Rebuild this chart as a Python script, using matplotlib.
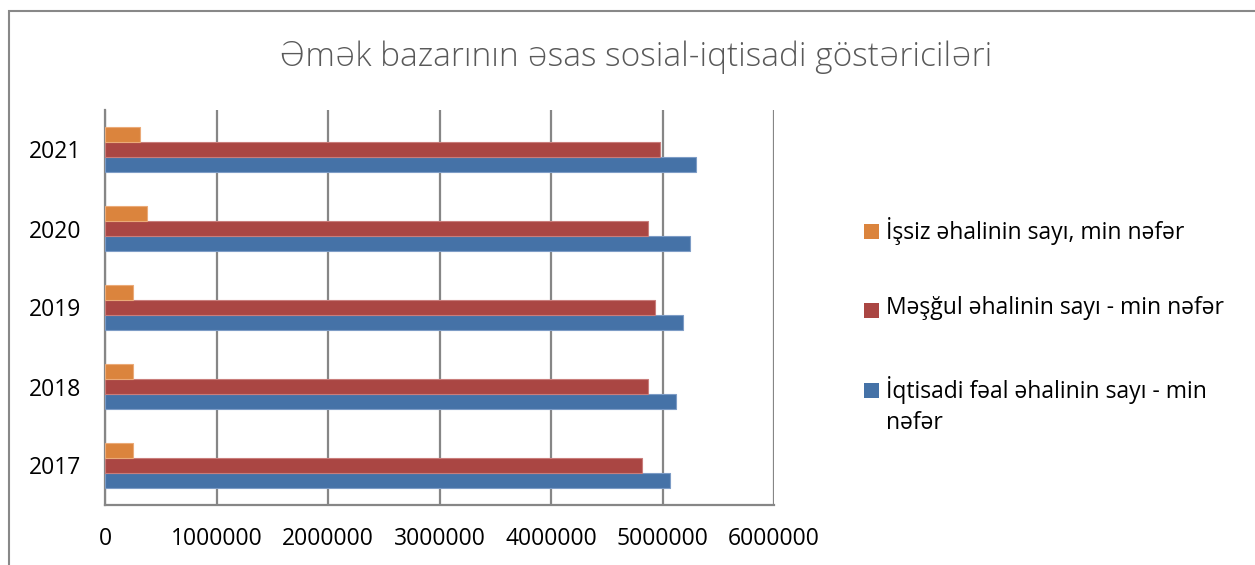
import matplotlib.pyplot as plt
import numpy as np
from matplotlib.patches import Rectangle

years = ["2017", "2018", "2019", "2020", "2021"]
active = [5067000, 5124000, 5184000, 5246000, 5297000]
employed = [4814000, 4873000, 4930000, 4870000, 4978000]
unemployed = [254000, 254000, 254000, 373000, 316000]

series_labels = [
    "İqtisadi fəal əhalinin sayı - min\nnəfər",
    "Məşğul əhalinin sayı - min nəfər",
    "İşsiz əhalinin sayı, min nəfər",
]
colors = ["#4572A7", "#AA4643", "#DB843D"]
edges = ["#7D9CC6", "#C97D7B", "#EBAA78"]
xticks = [0, 1000000, 2000000, 3000000, 4000000, 5000000, 6000000]
title = "Əmək bazarının əsas sosial-iqtisadi göstəriciləri"

plt.rcParams['font.family'] = ['Open Sans', 'DejaVu Sans']

W, H = 1255, 565
fig = plt.figure(figsize=(W / 100, H / 100), dpi=100)
ax = fig.add_axes([105 / W, 1 - 505 / H, (774 - 105) / W, (505 - 110) / H])

y = np.arange(len(years))
h = 0.194
values = [active, employed, unemployed]
for k, vals in enumerate(values):
    ax.barh(y + (k - 1) * h, vals, height=h, color=colors[k],
            edgecolor=edges[k], linewidth=0.8, zorder=3)

ax.set_xlim(0, 6000000)
ax.set_ylim(-0.5, len(years) - 0.5)
ax.set_xticks(xticks)
ax.set_xticklabels([str(t) for t in xticks], fontsize=16.5, color="#000000")
ax.set_yticks(y)
ax.set_yticklabels(years, fontsize=16.5, color="#000000")
ax.tick_params(axis='x', length=0, pad=16)
ax.tick_params(axis='y', length=0, pad=17)
ax.grid(axis='x', color="#868686", linewidth=1.6, zorder=0)
for side in ['top', 'right']:
    ax.spines[side].set_visible(False)
for side in ['left', 'bottom']:
    ax.spines[side].set_color("#868686")
    ax.spines[side].set_linewidth(1.6)

fig.text(636 / W, 1 - 57 / H, title, ha='center', va='center',
         fontsize=24, color="#595959", fontweight='light')

# legend, drawn by hand so the square sits beside the first line
leg_y = [390, 310, 231]
for k in range(3):
    fig.add_artist(Rectangle((864 / W, 1 - (leg_y[k] + 7.5) / H), 15 / W, 15 / H,
                             transform=fig.transFigure, facecolor=colors[k],
                             edgecolor='none'))
    fig.text(886 / W, 1 - (leg_y[k] - 14) / H, series_labels[k], ha='left',
             va='top', fontsize=16.5, color="#000000", linespacing=1.4)

# outer chart border
fig.add_artist(Rectangle((9 / W, -0.1), 1.2, 1 - 11 / H + 0.1,
                         transform=fig.transFigure, facecolor='none',
                         edgecolor="#888888", linewidth=1.5))

fig.savefig("out.png", dpi=100, facecolor='white')
